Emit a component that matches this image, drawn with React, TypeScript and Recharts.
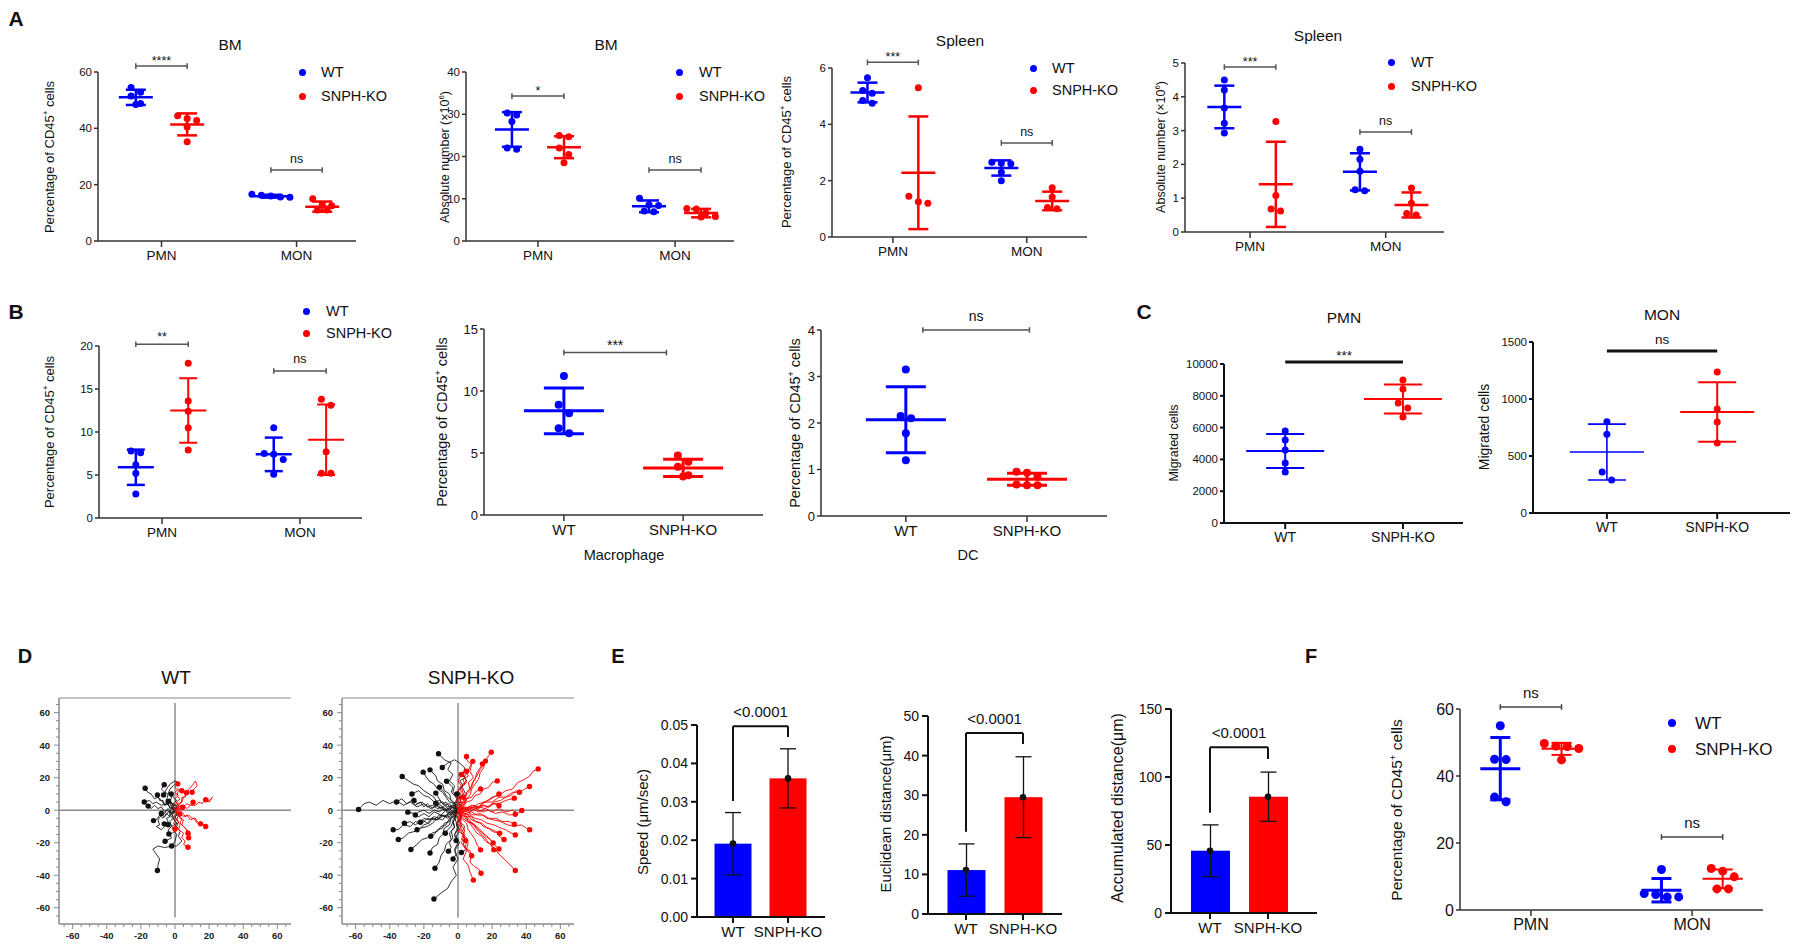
import React from 'react';
import { ScatterChart, Scatter, XAxis, YAxis, ErrorBar, ReferenceLine, ComposedChart, Bar } from 'recharts';

const BLUE = '#0000FF';
const RED = '#FF0000';
const COLORS = [BLUE, RED];
const NARROW = "'Liberation Sans Narrow', 'Arial Narrow', 'Liberation Sans', Arial, sans-serif";
const SANS = "'Liberation Sans', Arial, Helvetica, sans-serif";

// ======================= DATA =======================
const SERIES = ['WT', 'SNPH-KO'];
const CELL_TYPES = ['PMN', 'MON'];
const GENOTYPES = ['WT', 'SNPH-KO'];

// A1 — BM, percentage of CD45+ cells (groups: WT-PMN, KO-PMN, WT-MON, KO-MON)
const A1_WT_PMN = [54.5, 52.8, 51.5, 48.8, 48.5];
const A1_KO_PMN = [44.5, 43.5, 42.8, 40.5, 35.2];
const A1_WT_MON = [16.6, 16.2, 16.0, 15.6, 15.5];
const A1_KO_MON = [15.0, 13.0, 12.5, 11.0, 11.0];
const A1_MEAN = [51.0, 41.4, 15.9, 12.2];
const A1_SD = [2.7, 3.9, 0.5, 1.8];
const A1_SIG = ['****', 'ns'];
const A1_SIG_Y = [62.1, 25.2];
const A1_Y_TICKS = [0, 20, 40, 60];

// A2 — BM, absolute number (x10^6)
const A2_WT_PMN = [30.3, 29.8, 28.3, 22.0, 21.7];
const A2_KO_PMN = [25.0, 24.7, 22.0, 20.5, 18.5];
const A2_WT_MON = [10.1, 8.6, 8.4, 7.1, 6.9];
const A2_KO_MON = [7.7, 7.6, 6.6, 5.8, 5.7];
const A2_MEAN = [26.4, 22.2, 8.2, 6.6];
const A2_SD = [4.1, 2.6, 1.4, 1.0];
const A2_SIG = ['*', 'ns'];
const A2_SIG_Y = [34.3, 16.8];
const A2_Y_TICKS = [0, 10, 20, 30, 40];

// A3 — Spleen, percentage of CD45+ cells
const A3_WT_PMN = [5.65, 5.2, 5.1, 4.85, 4.75];
const A3_KO_PMN = [5.3, 1.45, 1.25, 1.2];
const A3_WT_MON = [2.65, 2.62, 2.6, 2.3, 2.0];
const A3_KO_MON = [1.75, 1.42, 1.05, 1.0];
const A3_MEAN = [5.13, 2.28, 2.45, 1.28];
const A3_SD = [0.35, 2.0, 0.27, 0.33];
const A3_SIG = ['***', 'ns'];
const A3_SIG_Y = [6.2, 3.34];
const A3_Y_TICKS = [0, 2, 4, 6];

// A4 — Spleen, absolute number (x10^6)
const A4_WT_PMN = [4.5, 4.2, 3.67, 3.22, 2.93];
const A4_KO_PMN = [3.27, 1.08, 0.68, 0.62];
const A4_WT_MON = [2.45, 2.15, 1.8, 1.25, 1.22];
const A4_KO_MON = [1.3, 0.85, 0.55, 0.5];
const A4_MEAN = [3.7, 1.41, 1.78, 0.8];
const A4_SD = [0.63, 1.26, 0.55, 0.37];
const A4_SIG = ['***', 'ns'];
const A4_SIG_Y = [4.88, 2.96];
const A4_Y_TICKS = [0, 1, 2, 3, 4, 5];

// B1 — percentage of CD45+ cells
const B1_WT_PMN = [7.8, 7.6, 6.2, 5.2, 2.8];
const B1_KO_PMN = [18.0, 13.6, 12.4, 10.5, 7.9];
const B1_WT_MON = [10.5, 7.5, 7.4, 6.8, 5.1];
const B1_KO_MON = [13.8, 13.1, 7.7, 5.2, 5.2];
const B1_MEAN = [5.9, 12.5, 7.4, 9.1];
const B1_SD = [2.05, 3.75, 1.95, 4.1];
const B1_SIG = ['**', 'ns'];
const B1_SIG_Y = [20.2, 17.1];
const B1_Y_TICKS = [0, 5, 10, 15, 20];

// B2 — Macrophage
const B2_WT = [11.2, 8.9, 8.2, 7.0, 6.6];
const B2_KO = [4.8, 4.3, 3.9, 3.2, 3.1];
const B2_MEAN = [8.4, 3.8];
const B2_SD = [1.85, 0.7];
const B2_SIG = '***';
const B2_SIG_Y = 13.1;
const B2_Y_TICKS = [0, 5, 10, 15];

// B3 — DC
const B3_WT = [3.15, 2.15, 2.1, 1.78, 1.2];
const B3_KO = [0.95, 0.93, 0.85, 0.68, 0.66, 0.66];
const B3_MEAN = [2.07, 0.79];
const B3_SD = [0.71, 0.13];
const B3_SIG = 'ns';
const B3_SIG_Y = 4.0;
const B3_Y_TICKS = [0, 1, 2, 3, 4];

// C1 — PMN migrated cells
const C1_WT = [5790, 5220, 4590, 3770, 3210];
const C1_KO = [8990, 8430, 7550, 7230, 6670];
const C1_MEAN = [4530, 7800];
const C1_SD = [1070, 910];
const C1_SIG = '***';
const C1_SIG_Y = 10126;
const C1_Y_TICKS = [0, 2000, 4000, 6000, 8000, 10000];

// C2 — MON migrated cells
const C2_WT = [800, 690, 360, 290];
const C2_KO = [1237, 912, 798, 614];
const C2_MEAN = [535, 886];
const C2_SD = [245, 262];
const C2_SIG = 'ns';
const C2_SIG_Y = 1421;
const C2_Y_TICKS = [0, 500, 1000, 1500];

// D — cell trajectories (flat x,y lists, start at origin, end = dot)
const D_WT_BLACK = [
  [0, 0, -2, 2, -1, 4, -4, 5, -6, 3, -8, 6, -10, 8, -12, 7, -14, 10, -16, 11, -17.5, 13.5],
  [0, 0, 1, 3, -2, 4, -3, 7, -5, 6, -4, 10, -6, 11, -8, 13, -6.3, 15.6],
  [0, 0, -2, -2, -4, 1, -6, -1, -8, 2, -10, 1, -12, 3, -14, 1, -15.7, 2.5],
  [0, 0, -2, -1, -3, -4, -5, -2, -7, -5, -9, -3, -11, -6, -12.6, -6.4],
  [0, 0, -1, 2, -3, 1, -4, 4, -6, 3, -7, 6, -9, 6, -10.3, 9.4],
  [0, 0, -2, 1, -1, 3, -3, 3, -2, 5, -4, 5.3],
  [0, 0, -1, -2, -3, -1, -3, -4, -5, -5, -4, -7, -6.3, -8.4],
  [0, 0, 1, -3, -1, -5, 1, -8, -2, -10, 0, -13, -3, -15, -2, -17, -5.8, -19.1],
  [0, 0, -2, -4, 1, -8, -1, -12, 1, -15, 0, -19, -2, -22, -6, -23, -10, -22, -13, -24, -11, -27, -9, -30, -10, -34, -10.3, -37.1],
  [0, 0, -2, -2, -1, -5, -3, -7, -2, -10, -4, -12, -3.6, -14.6],
  [0, 0, 1, 2, -1, 4, 1, 6, -1, 8, -2.2, 10],
  [0, 0, -2, 1, -3, -1, -5, 0, -6, -2, -8, -2],
  [0, 0, -1, 3, -3, 5, -2, 8, -4, 10, -3, 13, -1, 15, 2, 17, 0, 18, -3, 16, -5, 13, -6.7, 9.4],
  [0, 0, -2, -2, -4, -1, -6, -4, -8, -3, -10, -6, -9, -9, -11, -10, -8, -12, -6, -10, -4, -9],
  [0, 0, -3, 2, -5, 4, -8, 3, -11, 5, -13, 4, -15, 6, -18, 5],
  [0, 0, 2, -2, 0, -4, 2, -7, 1, -10, 3, -13, 2, -16, 4, -19, 1, -22, -2, -22],
];
const D_WT_RED = [
  [0, 0, 2, 2, 1, 5, 3, 7, 1, 9, 2, 12, 0, 14, 1.6, 16.2],
  [0, 0, 2, 1, 2, 4, 4, 5, 4, 8, 6, 8, 6.7, 10.7],
  [0, 0, 2, 1, 3, 3, 5, 2, 7, 4, 9, 3, 10.6, 4.9],
  [0, 0, 3, 1, 5, 3, 7, 1, 9, 3, 12, 3, 14, 5, 16, 4, 18, 7, 20, 6, 22, 8, 20, 5, 18, 6.4],
  [0, 0, 2, -2, 4, -1, 6, -4, 8, -3, 10, -5, 12, -5, 13, -7, 15, -8.4],
  [0, 0, 3, -2, 5, -4, 7, -3, 9, -6, 11, -5, 13, -8, 15, -7, 18, -10],
  [0, 0, 2, -2, 3, -5, 5, -6, 4, -9, 6, -11, 7.6, -14.2],
  [0, 0, 2, -3, 1, -6, 3, -9, 2, -12, 5, -14, 4, -17, 6, -19, 5, -21, 7.6, -22.8],
  [0, 0, 1, -2, -1, -4, 1, -6, -1, -8, 1, -10, 0, -11.5],
  [0, 0, 1, -1, 2, 0, 2.7, -2.3],
  [0, 0, 2, 1, 3, 0, 4.5, 1.8],
  [0, 0, 2, 3, 4, 5, 5, 8, 7, 10, 8, 13, 10, 15, 12, 18, 13, 15, 11, 13, 10, 11],
  [0, 0, -1, 2, 1, 4, 0, 7, 2, 9, 0, 11, 2, 13, 4, 12],
  [0, 0, 2, -3, 4, -5, 3, -8, 5, -10, 7, -12, 9, -15, 8, -17],
];
const D_KO_BLACK = [
  [0, 0, -4, 2, -8, 0, -12, 3, -16, 1, -20, 4, -24, 2, -28, 5, -32, 3, -36, 6, -40, 4, -44, 6, -48, 3, -52, 5, -55, 4, -57, 2, -58.3, 0.4],
  [0, 0, -3, 3, -6, 2, -9, 5, -12, 4, -14, 8, -17, 10, -20, 12, -23, 15, -26, 16, -29, 18, -32.7, 20.7],
  [0, 0, -2, 4, -5, 5, -7, 8, -9, 11, -12, 13, -14, 16, -17, 18, -19, 21, -20.4, 23.4],
  [0, 0, -1, 4, -4, 6, -5, 10, -8, 12, -9, 16, -12, 18, -13, 21, -16.4, 24.8],
  [0, 0, -2, 4, 0, 8, -3, 11, -2, 15, -5, 18, -3, 22, -6, 25, -4, 29, -8, 31, -11.4, 34.7],
  [0, 0, 2, 4, 1, 8, 4, 11, 2, 15, 5, 18, 3, 22, 4, 26, 1, 29, -2, 31, -6, 29, -9.2, 26.3],
  [0, 0, -2, 3, 0, 6, -2, 9, -4, 11, -3, 14, -6.7, 17.8],
  [0, 0, -3, 2, -6, 0, -9, 2, -12, 1, -15, 3, -18, 2, -21, 5, -24, 4, -25.8, 6],
  [0, 0, -2, 3, -5, 2, -7, 5, -9, 4, -11, 7, -13, 10.5],
  [0, 0, -3, -1, -5, 1, -8, 0, -10, 3, -13, 4.3],
  [0, 0, -4, -2, -7, 0, -10, -3, -14, -1, -17, -4, -20, -2, -23, -4, -26, -2, -29.4, -1.2],
  [0, 0, -3, -2, -6, -5, -9, -3, -12, -6, -15, -5, -18, -8, -21, -6, -25, -9, -28, -7, -31.4, -8],
  [0, 0, -3, -3, -6, -2, -9, -6, -12, -5, -15, -8, -18, -10, -22, -11, -25, -13, -29, -14, -32, -17, -35, -18],
  [0, 0, -2, -4, -5, -5, -7, -9, -10, -10, -12, -13, -15, -14, -18, -17, -21, -18, -24, -21, -27.6, -24.2],
  [0, 0, -3, -1, -5, -4, -8, -3, -11, -5, -14, -4, -17, -6, -20, -5, -22, -7.4],
  [0, 0, -2, -3, -4, -5, -5, -9, -8, -11, -9, -15, -11, -17, -12, -21, -15, -23, -16.4, -26.3],
  [0, 0, -1, -4, -3, -7, -2, -11, -5, -14, -4, -18, -7, -21, -8, -25, -10, -28, -11, -32, -13.5, -35.7],
  [0, 0, -2, -5, 0, -10, -2, -15, 1, -20, -2, -25, 0, -30, -3, -35, -1, -40, -4, -44, -6, -48, -10, -51, -14.1, -54.6],
  [0, 0, -1, -3, -3, -6, -2, -10, -4, -13, -3, -17, -5, -20, -4, -23, -5.6, -25.2],
  [0, 0, 1, -4, -1, -8, 1, -12, -1, -16, 0, -20, -2, -24, -1, -27, -2.9, -30],
  [0, 0, -2, -2, -1, -5, -3, -7, -4, -10, -6, -12, -7.4, -14.2],
  [0, 0, -1, -3, 1, -6, -1, -9, 0, -12, -2, -15, -1.1, -18.7],
  [0, 0, -1, 2, 1, 4, -1, 6, 1, 8, -0.7, 10],
  [0, 0, -2, 2, -3, 5, -5, 7, -7, 9, -8, 11, -10.8, 14.2],
  [0, 0, -4, -2, -7, -4, -11, -3, -14, -6, -18, -5, -21, -8, -25, -7, -28, -10, -32, -9, -35, -12, -38, -12],
  [0, 0, -3, 1, -5, 4, -8, 3, -11, 6, -14, 5, -17, 8, -20, 9, -23, 12, -25, 11, -27, 10],
  [0, 0, -2, -2, -5, -1, -7, -4, -10, -3, -12, -6, -15, -5, -17, -8, -20, -9, -22, -11, -24, -12],
  [0, 0, -3, 0, -6, -2, -8, 1, -11, -1, -14, 0, -17, -2, -20, 0, -23, -1, -25, -3],
  [0, 0, -1, -3, -4, -4, -5, -7, -8, -8, -9, -11, -12, -12, -14, -15, -16, -16],
  [0, 0, 1, 3, -1, 6, 2, 9, 0, 12, 3, 15, 1, 18, 4, 20, 2, 22],
  [0, 0, 2, -3, 1, -7, 4, -10, 2, -14, 5, -17, 3, -21, 5, -24, 2, -26],
  [0, 0, -3, 2, -5, 0, -8, 3, -10, 1, -13, 3, -15, 1, -18, 4, -20, 2, -22, 5, -25, 3, -27, 6, -30, 4, -33, 7, -36, 5],
];
const D_KO_RED = [
  [0, 0, 1, 3, -1, 6, 1, 9, 0, 12, 2, 15, 0, 18, 2.2, 22],
  [0, 0, 2, 3, 1, 7, 3, 10, 2, 14, 5, 17, 4, 21, 6, 24, 7, 27, 8.7, 30],
  [0, 0, 2, 3, 4, 6, 5, 10, 7, 12, 8, 16, 10, 19, 11, 23, 13, 26, 14.3, 28.5],
  [0, 0, 2, 4, 4, 7, 5, 11, 8, 14, 9, 18, 11, 21, 13, 25, 15, 28, 17, 32, 19.5, 35.7],
  [0, 0, 3, 3, 5, 7, 7, 9, 8, 13, 10, 16, 12, 19, 13, 23, 15, 26, 16.1, 30.2],
  [0, 0, 4, 2, 8, 1, 12, 4, 16, 5, 20, 8, 24, 9, 28, 12, 32, 13, 35, 17, 39, 19, 42, 21, 44, 24, 47, 25.4],
  [0, 0, 4, 1, 8, 3, 12, 2, 16, 5, 20, 5, 24, 8, 28, 8, 32, 11, 36, 11, 39, 13, 41.9, 14.6],
  [0, 0, 3, 2, 6, 1, 9, 3, 12, 2, 15, 5, 18, 6, 21, 8, 24, 10],
  [0, 0, 4, 1, 8, 0, 12, 2, 16, 1, 20, 4, 24, 4, 28, 6, 33, 7.4],
  [0, 0, 4, -1, 8, 1, 12, -1, 16, 1, 20, -1, 24, 1, 28, -1, 32, 0, 35, -2, 37.4, -0.2],
  [0, 0, 3, 1, 7, -1, 10, 1, 14, -1, 18, 0, 22, -2, 26, -1, 30, -3, 33.6, -2.5],
  [0, 0, 4, -2, 8, -1, 11, -3, 15, -3, 18, -5, 22, -5, 26, -7, 30, -7, 33, -8.6],
  [0, 0, 3, -2, 7, -3, 10, -5, 14, -6, 17, -8, 21, -9, 25, -11, 28, -12, 31, -14, 33.6, -15.2],
  [0, 0, 3, -2, 6, -3, 8, -6, 11, -7, 14, -8, 17, -11, 20, -12, 22, -13, 24.4, -14.2],
  [0, 0, 2, -3, 5, -4, 6, -7, 9, -8, 11, -11, 13, -13, 16, -15, 18, -17, 20.6, -20.1],
  [0, 0, 2, -3, 4, -6, 7, -8, 9, -11, 11, -14, 14, -16, 16, -19, 19, -21, 21, -24.4],
  [0, 0, 3, -3, 6, -5, 8, -8, 11, -10, 14, -13, 16, -16, 19, -18, 21, -21, 24, -23.8],
  [0, 0, 1, -3, 3, -6, 5, -8, 6, -12, 8, -15, 10, -18, 11, -21, 13.2, -24.4],
  [0, 0, 2, -4, 1, -8, 4, -12, 3, -16, 6, -20, 5, -24, 8, -28, 7, -32, 10, -35, 12, -36, 13.5, -38.8],
  [0, 0, 3, -3, 6, -7, 9, -9, 12, -13, 15, -16, 18, -20, 21, -23, 24, -27, 27, -30, 30, -33, 33.6, -37.1],
  [0, 0, 1, -3, 0, -6, 2, -9, 1, -12, 3, -15, 4.5, -18.7],
  [0, 0, 2, 2, 4, 4, 5, 7, 8, 8, 10, 11, 13.2, 13.1],
  [0, 0, 3, 1, 6, 0, 9, 2, 12, 1, 15, 3, 18, 2, 21, 4, 24, 2.9],
  [0, 0, 1, 2, 0, 4, 2, 5, 1, 7, 3, 8],
  [0, 0, 5, -1, 9, -3, 13, -2, 17, -5, 21, -6, 25, -7, 29, -9, 33, -10, 37, -9, 40, -11, 42, -12],
  [0, 0, 2, -5, 1, -10, 4, -15, 2, -20, 5, -25, 3, -30, 6, -34, 7, -38, 9, -43],
  [0, 0, 2, 4, 5, 6, 4, 10, 7, 13, 6, 17, 9, 20, 7, 24, 8, 28, 5, 31, 5, 33],
  [0, 0, 3, 2, 5, 5, 8, 6, 10, 9, 13, 10, 15, 13, 18, 14, 20, 17, 23, 18],
  [0, 0, 3, -1, 5, -4, 8, -4, 10, -7, 13, -8, 15, -10, 18, -11, 20, -13, 23, -14, 25, -17, 27, -18],
  [0, 0, -1, -3, 1, -5, -1, -8, 2, -10, 0, -13, 3, -15, 2, -18, 5, -20, 4, -23, 7, -25, 8, -28],
  [0, 0, -1, 2, 1, 5, -1, 8, 2, 11, 1, 14, 4, 16, 3, 19, 6, 21, 5, 24],
  [0, 0, 4, 0, 7, 2, 11, 1, 14, 3, 18, 2, 21, 5, 25, 6, 28, 8, 31, 9, 34, 12, 36, 11],
];
const D_TICKS_ALL = [-65, -60, -55, -50, -45, -40, -35, -30, -25, -20, -15, -10, -5, 0, 5, 10, 15, 20, 25, 30, 35, 40, 45, 50, 55, 60, 65];
const D_X_DOMAIN = [-68, 68];
const D_Y_DOMAIN = [-70, 69];

// E — bars: mean, SD, bracket [top, WT leg end, KO leg end]
const E1_MEAN = [0.0191, 0.0361];
const E1_SD = [0.0081, 0.0077];
const E1_BRACKET = [0.0497, 0.0302, 0.0469];
const E1_Y_TICKS = [0, 0.01, 0.02, 0.03, 0.04, 0.05];
const E2_MEAN = [11.1, 29.5];
const E2_SD = [6.6, 10.2];
const E2_BRACKET = [45.7, 20.8, 42.9];
const E2_Y_TICKS = [0, 10, 20, 30, 40, 50];
const E3_MEAN = [45.8, 85.5];
const E3_SD = [19.0, 18.1];
const E3_BRACKET = [121.8, 73.8, 113.2];
const E3_Y_TICKS = [0, 50, 100, 150];
const E_P_LABEL = '<0.0001';

// F — percentage of CD45+ cells
const F_WT_PMN = [55.0, 45.0, 44.9, 33.7, 32.3];
const F_KO_PMN = [49.7, 48.9, 48.8, 48.2, 44.8];
const F_WT_MON = [12.1, 4.9, 4.6, 3.9, 3.9];
const F_KO_MON = [12.4, 11.6, 9.9, 6.3, 6.3];
const F_MEAN = [42.2, 48.1, 5.9, 9.3];
const F_SD = [9.3, 1.8, 3.5, 2.8];
const F_SIG = ['ns', 'ns'];
const F_SIG_Y = [60.6, 21.8];
const F_Y_TICKS = [0, 20, 40, 60];

// ======================= LAYOUT HELPERS =======================
const PAIR_OFF = 0.19;

type Group = { x: number; series: number; values: number[]; mean: number; sd: number };
type Bracket = { x1: number; x2: number; y: number; label: string };

function pairGroups(vals: number[][], means: number[], sds: number[]): Group[] {
  return vals.map((v, i) => ({
    x: Math.floor(i / 2) + 1 + (i % 2 ? PAIR_OFF : -PAIR_OFF),
    series: i % 2,
    values: v,
    mean: means[i],
    sd: sds[i],
  }));
}
function pairBrackets(labels: string[], ys: number[]): Bracket[] {
  return labels.map((l, i) => ({ x1: i + 1 - PAIR_OFF, x2: i + 1 + PAIR_OFF, y: ys[i], label: l }));
}
function soloGroups(vals: number[][], means: number[], sds: number[]): Group[] {
  return vals.map((v, i) => ({ x: i + 1, series: i, values: v, mean: means[i], sd: sds[i] }));
}

// px offsets of dots in a column (rows of near-equal values spread symmetrically)
function swarm(values: number[], pxPerY: number, d: number): number[] {
  const idx = values.map((_, i) => i).sort((a, b) => values[b] - values[a]);
  const off = values.map(() => 0);
  let row: number[] = [];
  const flush = () => {
    const k = row.length;
    row.forEach((id, j) => {
      off[id] = (j - (k - 1) / 2) * d;
    });
  };
  idx.forEach((id) => {
    if (row.length && (values[row[0]] - values[id]) * pxPerY < d * 0.85) row.push(id);
    else {
      flush();
      row = [id];
    }
  });
  flush();
  return off;
}

const STYLE_A = {
  tickFont: 11.5, tickFamily: NARROW, xFont: 13.5, xFamily: NARROW, r: 3.5, lw: [2.5, 2.5],
  meanHalf: 17, capHalf: 10, axis: '#333', axisW: 1.5, bColor: '#555', bW: 1.5, bTicks: true,
  sigFont: 12.5, sigFamily: NARROW, starOff: 1, nsOff: 7,
};
const STYLE_B1 = { ...STYLE_A, lw: [2.5, 2], meanHalf: 18, capHalf: 9, starOff: 3, nsOff: 8 };
const STYLE_B2 = {
  ...STYLE_A, tickFont: 13, xFont: 15, r: 4, lw: [3, 3], meanHalf: 40, capHalf: 20,
  sigFont: 14, starOff: 3, nsOff: 9,
};
const STYLE_C = {
  ...STYLE_A, tickFont: 11.5, xFont: 14, r: 3.5, lw: [2, 2], meanHalf: 39, capHalf: 19,
  axis: '#111', axisW: 2, bColor: '#111', bW: 3, bTicks: false, sigFont: 13.5, starOff: 2, nsOff: 7,
};
const STYLE_F = {
  tickFont: 16, tickFamily: SANS, xFont: 16, xFamily: SANS, r: 4.5, lw: [3, 2],
  meanHalf: 20, capHalf: 10, axis: '#333', axisW: 1.5, bColor: '#444', bW: 1.5, bTicks: true,
  sigFont: 15, sigFamily: SANS, starOff: 2, nsOff: 9,
};

const DOT_PANELS = [
  { L: 98, R: 356, T: 72, B: 241, xDomain: [0.53, 2.44], yDomain: [0, 60], yTicks: A1_Y_TICKS, cats: CELL_TYPES,
    groups: pairGroups([A1_WT_PMN, A1_KO_PMN, A1_WT_MON, A1_KO_MON], A1_MEAN, A1_SD),
    brackets: pairBrackets(A1_SIG, A1_SIG_Y), style: STYLE_A },
  { L: 466, R: 734, T: 72, B: 241, xDomain: [0.475, 2.43], yDomain: [0, 40], yTicks: A2_Y_TICKS, cats: CELL_TYPES,
    groups: pairGroups([A2_WT_PMN, A2_KO_PMN, A2_WT_MON, A2_KO_MON], A2_MEAN, A2_SD),
    brackets: pairBrackets(A2_SIG, A2_SIG_Y), style: STYLE_A },
  { L: 832, R: 1087, T: 68, B: 237, xDomain: [0.545, 2.45], yDomain: [0, 6], yTicks: A3_Y_TICKS, cats: CELL_TYPES,
    groups: pairGroups([A3_WT_PMN, A3_KO_PMN, A3_WT_MON, A3_KO_MON], A3_MEAN, A3_SD),
    brackets: pairBrackets(A3_SIG, A3_SIG_Y), style: STYLE_A },
  { L: 1185, R: 1444, T: 63, B: 232, xDomain: [0.52, 2.43], yDomain: [0, 5], yTicks: A4_Y_TICKS, cats: CELL_TYPES,
    groups: pairGroups([A4_WT_PMN, A4_KO_PMN, A4_WT_MON, A4_KO_MON], A4_MEAN, A4_SD),
    brackets: pairBrackets(A4_SIG, A4_SIG_Y), style: STYLE_A },
  { L: 99, R: 362, T: 346, B: 518, xDomain: [0.543, 2.45], yDomain: [0, 20], yTicks: B1_Y_TICKS, cats: CELL_TYPES,
    groups: pairGroups([B1_WT_PMN, B1_KO_PMN, B1_WT_MON, B1_KO_MON], B1_MEAN, B1_SD),
    brackets: pairBrackets(B1_SIG, B1_SIG_Y), style: STYLE_B1 },
  { L: 484, R: 763, T: 329, B: 515, xDomain: [0.33, 2.67], yDomain: [0, 15], yTicks: B2_Y_TICKS, cats: GENOTYPES,
    groups: soloGroups([B2_WT, B2_KO], B2_MEAN, B2_SD),
    brackets: [{ x1: 1, x2: 1.86, y: B2_SIG_Y, label: B2_SIG }], style: STYLE_B2 },
  { L: 821, R: 1107, T: 330, B: 516, xDomain: [0.3, 2.66], yDomain: [0, 4], yTicks: B3_Y_TICKS, cats: GENOTYPES,
    groups: soloGroups([B3_WT, B3_KO], B3_MEAN, B3_SD),
    brackets: [{ x1: 1.14, x2: 2.02, y: B3_SIG_Y, label: B3_SIG }], style: STYLE_B2 },
  { L: 1224, R: 1463, T: 364, B: 523, xDomain: [0.48, 2.51], yDomain: [0, 10000], yTicks: C1_Y_TICKS, cats: GENOTYPES,
    groups: soloGroups([C1_WT, C1_KO], C1_MEAN, C1_SD),
    brackets: [{ x1: 1, x2: 2, y: C1_SIG_Y, label: C1_SIG }], style: STYLE_C },
  { L: 1533, R: 1790, T: 342, B: 513, xDomain: [0.33, 2.66], yDomain: [0, 1500], yTicks: C2_Y_TICKS, cats: GENOTYPES,
    groups: soloGroups([C2_WT, C2_KO], C2_MEAN, C2_SD),
    brackets: [{ x1: 1, x2: 2, y: C2_SIG_Y, label: C2_SIG }], style: { ...STYLE_C, meanHalf: 37, lw: [1.6, 2] } },
  { L: 1460, R: 1763, T: 709, B: 910, xDomain: [0.56, 2.44], yDomain: [0, 60], yTicks: F_Y_TICKS, cats: CELL_TYPES,
    groups: pairGroups([F_WT_PMN, F_KO_PMN, F_WT_MON, F_KO_MON], F_MEAN, F_SD),
    brackets: pairBrackets(F_SIG, F_SIG_Y), style: STYLE_F },
];

function DotPanel({ p }: { p: any }) {
  const s = p.style;
  const yw = 50, xh = 36, mt = 50, mr = 6;
  const W = p.R - p.L + yw + mr;
  const H = p.B - p.T + mt + xh;
  const pxPerY = (p.B - p.T) / (p.yDomain[1] - p.yDomain[0]);
  const unitPerPxX = (p.xDomain[1] - p.xDomain[0]) / (p.R - p.L);
  const tHalf = 2.8 / pxPerY;
  const dotStep = 2 * s.r + 2.5;
  const axisLine = { stroke: s.axis, strokeWidth: s.axisW };
  const children: any[] = [];
  p.brackets.forEach((b: Bracket, bi: number) => {
    children.push(
      <ReferenceLine key={'b' + bi} segment={[{ x: b.x1, y: b.y }, { x: b.x2, y: b.y }]} stroke={s.bColor} strokeWidth={s.bW}
        ifOverflow="visible"
        label={{ value: b.label, position: 'top', offset: b.label.includes('*') ? s.starOff : s.nsOff,
          fontSize: s.sigFont, fontFamily: s.sigFamily, fill: '#111' }} />
    );
    if (s.bTicks) {
      [b.x1, b.x2].forEach((x, k) =>
        children.push(
          <ReferenceLine key={'bt' + bi + '_' + k} segment={[{ x, y: b.y - tHalf }, { x, y: b.y + tHalf }]} stroke={s.bColor}
            strokeWidth={s.bW} ifOverflow="visible" />
        )
      );
    }
  });
  p.groups.forEach((g: Group, gi: number) => {
    const col = COLORS[g.series];
    const off = swarm(g.values, pxPerY, dotStep);
    const pts = g.values.map((v, i) => ({ x: g.x + off[i] * unitPerPxX, y: v }));
    children.push(
      <Scatter key={'p' + gi} data={pts} isAnimationActive={false}
        shape={(sp: any) => <circle cx={sp.cx} cy={sp.cy} r={s.r} fill={col} />} />
    );
  });
  p.groups.forEach((g: Group, gi: number) => {
    const col = COLORS[g.series];
    const lw = s.lw[g.series];
    children.push(
      <Scatter key={'m' + gi} data={[{ x: g.x, y: g.mean, err: g.sd }]} isAnimationActive={false}
        shape={(sp: any) => <line x1={sp.cx - s.meanHalf} x2={sp.cx + s.meanHalf} y1={sp.cy} y2={sp.cy} stroke={col} strokeWidth={lw} />}>
        <ErrorBar dataKey="err" direction="y" width={s.capHalf} stroke={col} strokeWidth={lw} isAnimationActive={false} />
      </Scatter>
    );
  });
  return (
    <div style={{ position: 'absolute', left: p.L - yw, top: p.T - mt }}>
      <ScatterChart width={W} height={H} margin={{ top: mt, right: mr, left: 0, bottom: 0 }}>
        <XAxis type="number" dataKey="x" domain={p.xDomain} ticks={p.cats.map((_: any, i: number) => i + 1)}
          tickFormatter={(v: number) => p.cats[v - 1] ?? ''} allowDataOverflow height={xh} interval={0}
          axisLine={axisLine} tickLine={axisLine} tickSize={6} tickMargin={3}
          tick={{ fontSize: s.xFont, fontFamily: s.xFamily, fill: '#111' }} />
        <YAxis type="number" dataKey="y" domain={p.yDomain} ticks={p.yTicks} allowDataOverflow width={yw} interval={0}
          axisLine={axisLine} tickLine={axisLine} tickSize={4} tickMargin={2}
          tick={{ fontSize: s.tickFont, fontFamily: s.tickFamily, fill: '#111' }} />
        {children}
      </ScatterChart>
    </div>
  );
}

// ---------------- E bar panels ----------------
const BAR_PANELS = [
  { L: 697, R: 825, T: 725, B: 917, yDomain: [0, 0.05], yTicks: E1_Y_TICKS, pad: { left: 8.5, right: 9.5 }, barSize: 37,
    means: E1_MEAN, sds: E1_SD, bracket: E1_BRACKET, fmt: (v: number) => v.toFixed(2) },
  { L: 928, R: 1062, T: 716, B: 914, yDomain: [0, 50], yTicks: E2_Y_TICKS, pad: { left: 9.5, right: 10.5 }, barSize: 38,
    means: E2_MEAN, sds: E2_SD, bracket: E2_BRACKET, fmt: (v: number) => String(v) },
  { L: 1171, R: 1317, T: 709, B: 913, yDomain: [0, 150], yTicks: E3_Y_TICKS, pad: { left: 10, right: 20 }, barSize: 39,
    means: E3_MEAN, sds: E3_SD, bracket: E3_BRACKET, fmt: (v: number) => String(v) },
];

function BarPanel({ p }: { p: any }) {
  const yw = 60, xh = 40, mt = 40, mr = 6;
  const W = p.R - p.L + yw + mr;
  const H = p.B - p.T + mt + xh;
  const data = GENOTYPES.map((name, i) => ({ name, mean: p.means[i], sd: p.sds[i] }));
  const ax = { stroke: '#111', strokeWidth: 2 };
  const br = { stroke: '#111', strokeWidth: 2, ifOverflow: 'visible' as const };
  const [top, legWT, legKO] = p.bracket;
  return (
    <div style={{ position: 'absolute', left: p.L - yw, top: p.T - mt }}>
      <ComposedChart width={W} height={H} data={data} margin={{ top: mt, right: mr, left: 0, bottom: 0 }}>
        <XAxis dataKey="name" type="category" padding={p.pad} height={xh} interval={0} tickSize={6} tickMargin={3}
          axisLine={ax} tickLine={ax} tick={{ fontSize: 15, fontFamily: SANS, fill: '#111' }} />
        <YAxis type="number" domain={p.yDomain} ticks={p.yTicks} allowDataOverflow width={yw} interval={0} tickSize={6}
          tickMargin={3} tickFormatter={p.fmt} axisLine={ax} tickLine={ax}
          tick={{ fontSize: 14, fontFamily: SANS, fill: '#111' }} />
        <Bar dataKey="mean" barSize={p.barSize} isAnimationActive={false}
          shape={(bp: any) => (
            <g>
              <rect x={bp.x} y={bp.y} width={bp.width} height={bp.height}
                fill={COLORS[Math.max(0, GENOTYPES.indexOf(bp.payload?.name ?? bp.name))]} />
            </g>
          )}>
          <ErrorBar dataKey="sd" direction="y" width={8} stroke="#111" strokeWidth={1.3} isAnimationActive={false} />
        </Bar>
        <Scatter dataKey="mean" isAnimationActive={false}
          shape={(sp: any) => <circle cx={sp.cx} cy={sp.cy} r={3.3} fill="#111" />} />
        <ReferenceLine segment={[{ x: 'WT', y: legWT }, { x: 'WT', y: top }]} {...br} />
        <ReferenceLine segment={[{ x: 'WT', y: top }, { x: 'SNPH-KO', y: top }]} {...br}
          label={{ value: E_P_LABEL, position: 'top', offset: 9, fontSize: 15, fontFamily: SANS, fill: '#111' }} />
        <ReferenceLine segment={[{ x: 'SNPH-KO', y: top }, { x: 'SNPH-KO', y: legKO }]} {...br} />
      </ComposedChart>
    </div>
  );
}

// ---------------- D trajectory panels ----------------
const toPts = (flat: number[]) => {
  const out: { x: number; y: number }[] = [];
  for (let i = 0; i < flat.length; i += 2) out.push({ x: flat[i], y: flat[i + 1] });
  return out;
};
const D_AXIS = '#8a8a8a';
const renderDXTick = (tp: any) => {
  const v = tp.payload.value;
  const major = v % 20 === 0;
  return (
    <g>
      <line x1={tp.x} x2={tp.x} y1={tp.y} y2={tp.y + (major ? 5 : 3)} stroke={D_AXIS} strokeWidth={1} />
      {major && (
        <text x={tp.x} y={tp.y + 15} textAnchor="middle" fontSize={9.5} fontWeight="bold" fontFamily={SANS} fill="#222">{v}</text>
      )}
    </g>
  );
};
const renderDYTick = (tp: any) => {
  const v = tp.payload.value;
  const major = v % 20 === 0;
  return (
    <g>
      <line x1={tp.x - (major ? 5 : 3)} x2={tp.x} y1={tp.y} y2={tp.y} stroke={D_AXIS} strokeWidth={1} />
      {major && (
        <text x={tp.x - 9} y={tp.y + 3.5} textAnchor="end" fontSize={9.5} fontWeight="bold" fontFamily={SANS} fill="#222">{v}</text>
      )}
    </g>
  );
};

function TrajPanel({ L, R, T, B, black, red }: any) {
  const yw = 34, xh = 26, mt = 4, mr = 6;
  const W = R - L + yw + mr;
  const H = B - T + mt + xh;
  const ends = (arr: number[][]) => arr.map((f) => ({ x: f[f.length - 2], y: f[f.length - 1] }));
  const dAx = { stroke: D_AXIS, strokeWidth: 1.5 };
  return (
    <div style={{ position: 'absolute', left: L - yw, top: T - mt }}>
      <ScatterChart width={W} height={H} margin={{ top: mt, right: mr, left: 0, bottom: 0 }}>
        <XAxis type="number" dataKey="x" domain={D_X_DOMAIN} ticks={D_TICKS_ALL} allowDataOverflow height={xh} interval={0}
          tickLine={false} tickSize={0} tickMargin={0} axisLine={dAx} tick={renderDXTick} />
        <YAxis type="number" dataKey="y" domain={D_Y_DOMAIN} ticks={D_TICKS_ALL} allowDataOverflow width={yw} interval={0}
          tickLine={false} tickSize={0} tickMargin={0} axisLine={dAx} tick={renderDYTick} />
        <ReferenceLine y={D_Y_DOMAIN[1]} stroke="#c4c4c4" strokeWidth={2} />
        <ReferenceLine y={0} stroke="#8c8c8c" strokeWidth={1.5} />
        <ReferenceLine segment={[{ x: 0, y: -66 }, { x: 0, y: 66 }]} stroke="#8c8c8c" strokeWidth={1.5} />
        {black.map((t: number[], i: number) => (
          <Scatter key={'k' + i} data={toPts(t)} line={{ stroke: '#1a1a1a', strokeWidth: 0.9 }} lineType="joint"
            isAnimationActive={false} shape={() => <g />} />
        ))}
        {red.map((t: number[], i: number) => (
          <Scatter key={'r' + i} data={toPts(t)} line={{ stroke: RED, strokeWidth: 0.9 }} lineType="joint"
            isAnimationActive={false} shape={() => <g />} />
        ))}
        <Scatter data={ends(black)} isAnimationActive={false}
          shape={(sp: any) => <circle cx={sp.cx} cy={sp.cy} r={2.7} fill="#111" />} />
        <Scatter data={ends(red)} isAnimationActive={false}
          shape={(sp: any) => <circle cx={sp.cx} cy={sp.cy} r={2.7} fill={RED} />} />
      </ScatterChart>
    </div>
  );
}

// ---------------- text helpers ----------------
function Txt({ x, y, fs, ff = SANS, fw = 'normal', rot = false, start = false, children }: any) {
  return (
    <div style={{
      position: 'absolute', left: x, top: y,
      transform: `translate(${start ? '0' : '-50%'}, -50%)${rot ? ' rotate(-90deg)' : ''}`,
      fontSize: fs, fontFamily: ff, fontWeight: fw, whiteSpace: 'nowrap', lineHeight: 1, color: '#111',
    }}>{children}</div>
  );
}
const Sup = ({ children }: any) => (
  <sup style={{ fontSize: '0.62em', verticalAlign: 'super', lineHeight: 0 }}>{children}</sup>
);
const PCT = <>Percentage of CD45<Sup>+</Sup> cells</>;
const ABS = <>Absolute number (×10<Sup>6</Sup>)</>;

function LegendBox({ dx, ys, tx, fs, r, ff }: any) {
  return (
    <>
      {SERIES.map((name, i) => (
        <React.Fragment key={name}>
          <div style={{ position: 'absolute', left: dx - r, top: ys[i] - r, width: 2 * r, height: 2 * r, borderRadius: '50%', background: COLORS[i] }} />
          <Txt x={tx} y={ys[i]} fs={fs} ff={ff} start>{name}</Txt>
        </React.Fragment>
      ))}
    </>
  );
}

export default function App() {
  return (
    <div style={{ position: 'absolute', left: 0, top: 0, width: 1800, height: 949, background: '#fff', overflow: 'hidden' }}>
      {DOT_PANELS.map((p, i) => <DotPanel key={i} p={p} />)}
      {BAR_PANELS.map((p, i) => <BarPanel key={i} p={p} />)}
      <TrajPanel L={59} R={291} T={698} B={924} black={D_WT_BLACK} red={D_WT_RED} />
      <TrajPanel L={342} R={574} T={698} B={924} black={D_KO_BLACK} red={D_KO_RED} />

      {/* panel letters */}
      <Txt x={16} y={18} fs={21} ff={NARROW} fw="bold">A</Txt>
      <Txt x={16} y={311} fs={21} ff={NARROW} fw="bold">B</Txt>
      <Txt x={1144} y={311} fs={21} ff={NARROW} fw="bold">C</Txt>
      <Txt x={25} y={656} fs={20} fw="bold">D</Txt>
      <Txt x={618} y={656} fs={20} fw="bold">E</Txt>
      <Txt x={1311} y={656} fs={20} fw="bold">F</Txt>

      {/* titles */}
      <Txt x={230} y={45} fs={15.5} ff={NARROW}>BM</Txt>
      <Txt x={606} y={45} fs={15.5} ff={NARROW}>BM</Txt>
      <Txt x={960} y={41} fs={15.5} ff={NARROW}>Spleen</Txt>
      <Txt x={1318} y={36} fs={15.5} ff={NARROW}>Spleen</Txt>
      <Txt x={1344} y={318} fs={15.5} ff={NARROW}>PMN</Txt>
      <Txt x={1662} y={315} fs={15.5} ff={NARROW}>MON</Txt>
      <Txt x={624} y={555} fs={14.5} ff={NARROW}>Macrophage</Txt>
      <Txt x={968} y={555} fs={14.5} ff={NARROW}>DC</Txt>
      <Txt x={176} y={677} fs={19}>WT</Txt>
      <Txt x={471} y={677} fs={19}>SNPH-KO</Txt>

      {/* y axis labels */}
      <Txt x={49} y={157} fs={13} rot>{PCT}</Txt>
      <Txt x={445} y={157} fs={12.5} rot>{ABS}</Txt>
      <Txt x={786} y={152} fs={13} rot>{PCT}</Txt>
      <Txt x={1161} y={147} fs={12.5} rot>{ABS}</Txt>
      <Txt x={49} y={432} fs={13} rot>{PCT}</Txt>
      <Txt x={442} y={422} fs={14.5} rot>{PCT}</Txt>
      <Txt x={795} y={423} fs={14.5} rot>{PCT}</Txt>
      <Txt x={1174} y={443} fs={12.5} rot>Migrated cells</Txt>
      <Txt x={1484} y={427} fs={14} rot>Migrated cells</Txt>
      <Txt x={642} y={822} fs={15} rot>Speed (μm/sec)</Txt>
      <Txt x={885} y={814} fs={15} rot>Euclidean distance(μm)</Txt>
      <Txt x={1118} y={808} fs={16} rot>Accumulated distance(μm)</Txt>
      <Txt x={1397} y={810} fs={15.5} rot>{PCT}</Txt>

      {/* legends */}
      <LegendBox dx={302} ys={[72, 96]} tx={321} fs={14.5} r={3.5} ff={NARROW} />
      <LegendBox dx={679} ys={[72, 96]} tx={699} fs={14.5} r={3.5} ff={NARROW} />
      <LegendBox dx={1033} ys={[68, 90]} tx={1052} fs={14.5} r={3.5} ff={NARROW} />
      <LegendBox dx={1391} ys={[62, 86]} tx={1411} fs={14.5} r={3.5} ff={NARROW} />
      <LegendBox dx={306} ys={[311, 333]} tx={326} fs={14.5} r={3.5} ff={NARROW} />
      <LegendBox dx={1672} ys={[723, 749]} tx={1695} fs={17} r={4} ff={SANS} />
    </div>
  );
}
